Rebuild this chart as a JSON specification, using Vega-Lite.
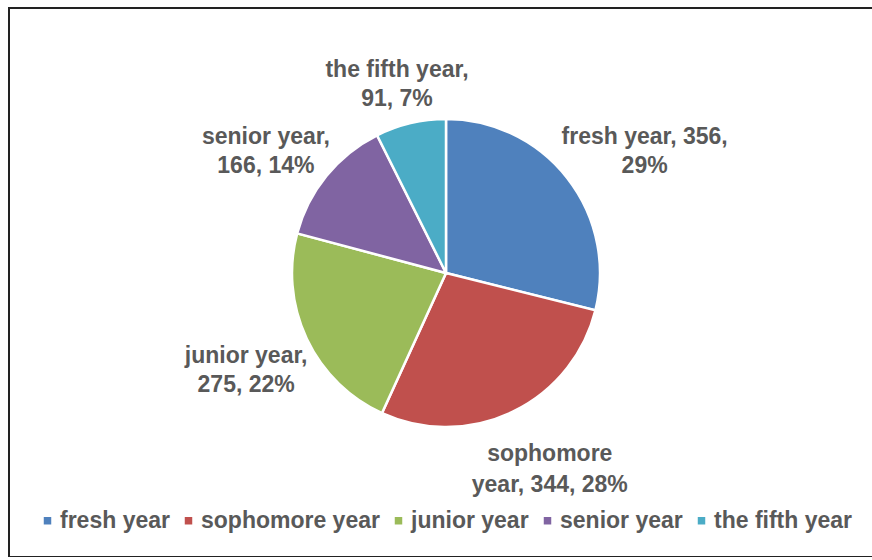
{
  "$schema": "https://vega.github.io/schema/vega-lite/v6.json",
  "width": 890,
  "height": 549,
  "padding": {"left": 9, "top": 8, "right": 0, "bottom": 0},
  "autosize": {"type": "none"},
  "background": "white",
  "view": {"stroke": "#222222", "strokeWidth": 2, "fill": "white"},
  "config": {
    "view": {"stroke": "#222222", "strokeWidth": 2},
    "text": {"font": "Liberation Sans"}
  },
  "data": {
    "values": [
      {"year": "fresh year", "count": 356, "label": ["fresh year, 356,", "29%"]},
      {"year": "sophomore year", "count": 344, "label": ["sophomore", "year, 344, 28%"]},
      {"year": "junior year", "count": 275, "label": ["junior year,", "275, 22%"]},
      {"year": "senior year", "count": 166, "label": ["senior year,", "166, 14%"]},
      {"year": "the fifth year", "count": 91, "label": ["the fifth year,", "91, 7%"]}
    ]
  },
  "encoding": {
    "theta": {"field": "count", "type": "quantitative", "stack": true},
    "order": {"field": "count", "type": "quantitative", "sort": "descending"}
  },
  "layer": [
    {
      "mark": {"type": "arc", "outerRadius": 154, "stroke": "white", "strokeWidth": 2.5, "xOffset": -8, "yOffset": -9.5},
      "encoding": {
        "color": {
          "field": "year",
          "type": "nominal",
          "scale": {
            "domain": ["fresh year", "sophomore year", "junior year", "senior year", "the fifth year"],
            "range": ["#4F81BD", "#C0504D", "#9BBB59", "#8064A2", "#4BACC6"]
          },
          "legend": {
            "title": null,
            "orient": "none",
            "legendX": 27,
            "legendY": 501,
            "direction": "horizontal",
            "symbolType": "square",
            "symbolSize": 56,
            "symbolStrokeWidth": 0,
            "symbolOpacity": 1,
            "labelFontSize": 23,
            "labelFont": "Liberation Sans",
            "labelFontWeight": "bold",
            "labelColor": "#595959",
            "labelOffset": 1,
            "columnPadding": 7,
            "labelLimit": 400
          }
        }
      }
    },
    {
      "mark": {"type": "text", "radius": 200, "dx": 33, "dy": -22, "fontSize": 23, "fontWeight": "bold", "fill": "#595959", "lineHeight": 29, "align": "center", "baseline": "middle"},
      "encoding": {"text": {"condition": {"test": "datum.year === 'fresh year'", "field": "label"}, "value": ""}}
    },
    {
      "mark": {"type": "text", "radius": 200, "dx": 9, "dy": -9, "fontSize": 23, "fontWeight": "bold", "fill": "#595959", "lineHeight": 31, "align": "center", "baseline": "middle"},
      "encoding": {"text": {"condition": {"test": "datum.year === 'sophomore year'", "field": "label"}, "value": ""}}
    },
    {
      "mark": {"type": "text", "radius": 200, "dx": -27, "dy": -12, "fontSize": 23, "fontWeight": "bold", "fill": "#595959", "lineHeight": 29, "align": "center", "baseline": "middle"},
      "encoding": {"text": {"condition": {"test": "datum.year === 'junior year'", "field": "label"}, "value": ""}}
    },
    {
      "mark": {"type": "text", "radius": 200, "dx": -33, "dy": -19, "fontSize": 23, "fontWeight": "bold", "fill": "#595959", "lineHeight": 29, "align": "center", "baseline": "middle"},
      "encoding": {"text": {"condition": {"test": "datum.year === 'senior year'", "field": "label"}, "value": ""}}
    },
    {
      "mark": {"type": "text", "radius": 200, "dx": -11, "dy": -18, "fontSize": 23, "fontWeight": "bold", "fill": "#595959", "lineHeight": 29, "align": "center", "baseline": "middle"},
      "encoding": {"text": {"condition": {"test": "datum.year === 'the fifth year'", "field": "label"}, "value": ""}}
    }
  ]
}
